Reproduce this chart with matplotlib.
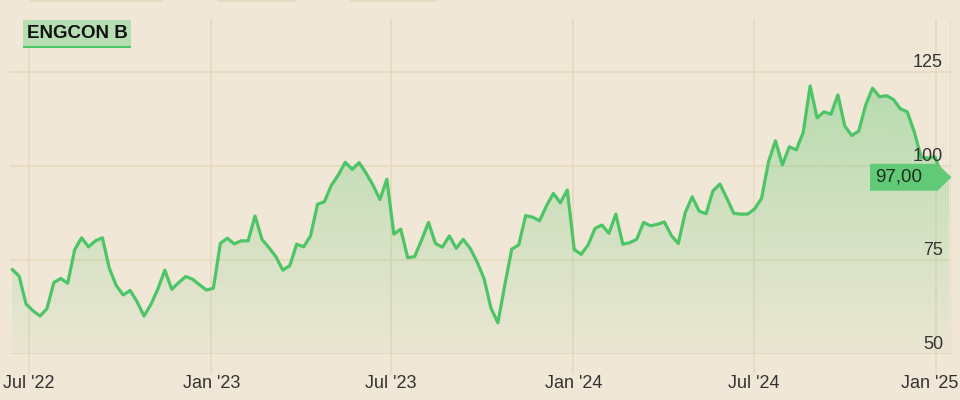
import matplotlib
matplotlib.use("Agg")
import matplotlib.pyplot as plt
import matplotlib.dates as mdates
import matplotlib.colors as mcolors
import matplotlib.transforms as mtransforms
from matplotlib.patches import Polygon, Rectangle, FancyBboxPatch
import numpy as np
import pandas as pd

# ---------------- data ----------------
title = "ENGCON B"
start_date = "2022-06-14"
prices = [
    72.5, 70.7, 63.3, 61.5, 60.1, 62.0, 69.0, 70.1, 68.8, 77.7,
    80.9, 78.5, 80.1, 80.9, 72.8, 68.2, 65.7, 66.9, 63.9, 60.1,
    63.2, 67.3, 72.3, 67.2, 69.0, 70.6, 69.9, 68.4, 67.0, 67.5,
    79.4, 80.8, 79.3, 80.1, 80.1, 86.7, 80.5, 78.3, 75.9, 72.3,
    73.5, 79.2, 78.5, 81.4, 89.8, 90.5, 94.9, 97.6, 101.0, 99.1,
    100.9, 98.1, 94.9, 91.1, 96.5, 81.9, 83.2, 75.6, 75.9, 80.3,
    85.0, 79.4, 78.4, 81.4, 78.1, 80.5, 78.1, 74.5, 70.1, 62.2,
    58.3, 68.4, 77.9, 79.0, 86.8, 86.4, 85.4, 89.4, 92.7, 90.2,
    93.6, 77.8, 76.5, 79.0, 83.4, 84.3, 82.1, 87.2, 79.2, 79.6,
    80.5, 85.0, 84.1, 84.5, 85.1, 81.5, 79.4, 87.6, 91.8, 88.0,
    87.3, 93.4, 95.2, 91.4, 87.4, 87.2, 87.2, 88.6, 91.4, 101.1,
    106.7, 100.3, 105.1, 104.3, 108.9, 121.3, 112.8, 114.4, 113.8, 118.9,
    110.6, 108.1, 109.3, 116.2, 120.7, 118.4, 118.7, 117.7, 115.2, 114.4,
    109.1, 102.3, 102.1, 102.4, 97.3, 97.0,
]
last_label = "97,00"
y_ticks = [50, 75, 100, 125]
x_tick_dates = ["2022-07-01", "2023-01-01", "2023-07-01",
                "2024-01-01", "2024-07-01", "2025-01-01"]
x_tick_labels = ["Jul '22", "Jan '23", "Jul '23", "Jan '24", "Jul '24", "Jan '25"]

# ---------------- style ----------------
BG = "#F0E7D6"
GRID = "#E8DBC2"
GREEN = "#4CC566"
LABEL_BG = "#62C977"
TITLE_BG = "#B7DDB2"
TEXT = "#333333"

plt.rcParams["font.family"] = ["Liberation Sans", "DejaVu Sans"]

W, H = 960, 400
fig = plt.figure(figsize=(W / 100, H / 100), dpi=100)
fig.patch.set_facecolor(BG)

ax_left, ax_right, ax_top, ax_bottom = 10, 951, 20, 354
ax = fig.add_axes([ax_left / W, (H - ax_bottom) / H,
                   (ax_right - ax_left) / W, (ax_bottom - ax_top) / H])
ax.set_facecolor(BG)
for s in ax.spines.values():
    s.set_visible(False)
ax.set_xticks([])
ax.set_yticks([])

dates = pd.date_range(start_date, periods=len(prices), freq="7D")
xs = mdates.date2num(dates)
ys = np.array(prices)

x_ref = mdates.date2num(pd.Timestamp("2022-07-01"))
xlim = (x_ref - 19.2, x_ref + 930.1)
ylim = (50, 50 + (ax_bottom - ax_top) / 3.76)

# gridlines
for v in y_ticks:
    ax.axhline(v, color=GRID, lw=1.4, zorder=0.5)
ax.axvline(xlim[1], color=GRID, lw=1.4, zorder=0.5)
vtrans = ax.get_xaxis_transform()
bottom_ext = -(373 - ax_bottom) / (ax_bottom - ax_top)
for d in x_tick_dates:
    xv = mdates.date2num(pd.Timestamp(d))
    ax.plot([xv, xv], [bottom_ext, 1.0], transform=vtrans, color=GRID,
            lw=1.4, clip_on=False, zorder=0.5)

# gradient fill under the line
verts = [(xs[0], 50)] + list(zip(xs, ys)) + [(xs[-1], 50)]
poly = Polygon(verts, closed=True, facecolor="none", edgecolor="none")
ax.add_patch(poly)
grad = np.zeros((256, 1, 4))
grad[:, 0, :3] = mcolors.to_rgb(GREEN)
grad[:, 0, 3] = np.linspace(0.03, 0.36, 256)
im = ax.imshow(grad, extent=[xs[0], xs[-1], 50, 125], origin="lower",
               aspect="auto", zorder=1, interpolation="bilinear")
im.set_clip_path(poly)

# line
ax.plot(xs, ys, color=GREEN, lw=2.3, solid_joinstyle="round",
        solid_capstyle="round", zorder=3)

ax.set_xlim(*xlim)
ax.set_ylim(*ylim)

# y tick labels (right side, above gridline)
ytrans = mtransforms.offset_copy(ax.get_yaxis_transform(), fig=fig,
                                 x=0, y=5, units="dots")
xpos_lbl = (943 - ax_left) / (ax_right - ax_left)
for v in y_ticks:
    ax.text(xpos_lbl, v, str(v), transform=ytrans, ha="right", va="baseline",
            fontsize=13, color=TEXT, zorder=4)

# x tick labels
xlab_y = -(383 - ax_bottom) / (ax_bottom - ax_top)
n_lab = len(x_tick_labels)
for i, (d, lab) in enumerate(zip(x_tick_dates, x_tick_labels)):
    xv = mdates.date2num(pd.Timestamp(d))
    if i == n_lab - 1:
        # keep the last label inside the picture, right-aligned at the edge
        fig.text(958 / W, (H - 383) / H, lab, ha="right", va="center",
                 fontsize=13, color=TEXT)
    else:
        ax.text(xv, xlab_y, lab, transform=vtrans, ha="center", va="center",
                fontsize=13, color=TEXT, clip_on=False)

# last value label box
fig.canvas.draw()
yd = ax.transData.transform((xs[-1], ys[-1]))[1]
ident = mtransforms.IdentityTransform()
box = Polygon([(870, yd - 13.5), (937.5, yd - 13.5), (951.5, yd),
               (937.5, yd + 13.5), (870, yd + 13.5)], closed=True,
              facecolor=LABEL_BG, edgecolor="none", transform=ident,
              zorder=10)
fig.patches.append(box)
fig.text(875 / W, yd / H, last_label, ha="left", va="center",
         fontsize=13.5, color="#1d2b20", zorder=11)

# title box
fig.patches.append(Rectangle((23 / W, (H - 48) / H), 108 / W, 28 / H,
                             transform=fig.transFigure, facecolor=TITLE_BG,
                             edgecolor="none", zorder=10))
fig.patches.append(Rectangle((23 / W, (H - 48) / H), 108 / W, 2.5 / H,
                             transform=fig.transFigure, facecolor=GREEN,
                             edgecolor="none", zorder=11))
fig.text(27 / W, (H - 33.5) / H, title, ha="left", va="center",
         fontsize=13.5, fontweight="bold", color="#111111", zorder=12)

# faint tabs at the very top edge
for x0, x1 in [(30, 163), (217, 297), (350, 437)]:
    fig.patches.append(FancyBboxPatch((x0 / W, (H - 2) / H), (x1 - x0) / W,
                                      6 / H, boxstyle="round,pad=0,rounding_size=0.004",
                                      transform=fig.transFigure,
                                      facecolor="#E7DAC1", edgecolor="none"))

fig.savefig("out.png", dpi=100, facecolor=BG)
